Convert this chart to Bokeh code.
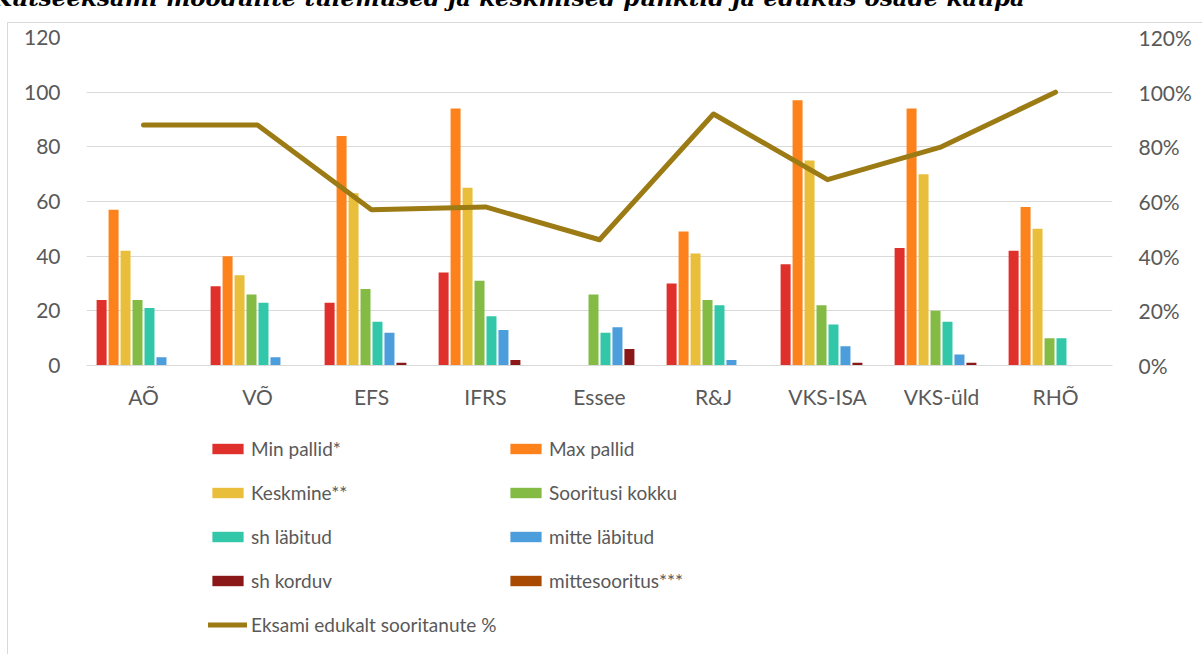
from bokeh.plotting import figure
from bokeh.models import (ColumnDataSource, FactorRange, Range1d, LinearAxis, Legend, LegendItem,
                          FixedTicker, PrintfTickFormatter, Div)
from bokeh.layouts import column
from bokeh.transform import dodge
from bokeh.embed import file_html
from bokeh.resources import INLINE

# ---------------- data ----------------
categories = ["AÕ", "VÕ", "EFS", "IFRS", "Essee", "R&J", "VKS-ISA", "VKS-üld", "RHÕ"]
min_pallid = [24, 29, 23, 34, 0, 30, 37, 43, 42]
max_pallid = [57, 40, 84, 94, 0, 49, 97, 94, 58]
keskmine = [42, 33, 63, 65, 0, 41, 75, 70, 50]
sooritusi_kokku = [24, 26, 28, 31, 26, 24, 22, 20, 10]
sh_labitud = [21, 23, 16, 18, 12, 22, 15, 16, 10]
mitte_labitud = [3, 3, 12, 13, 14, 2, 7, 4, 0]
sh_korduv = [0, 0, 1, 2, 6, 0, 1, 1, 0]
mittesooritus = [0, 0, 0, 0, 0, 0, 0, 0, 0]
edukalt_pct = [88, 88, 57, 58, 46, 92, 68, 80, 100]

series_labels = ["Min pallid*", "Max pallid", "Keskmine**", "Sooritusi kokku",
                 "sh läbitud", "mitte läbitud", "sh korduv", "mittesooritus***"]
line_label = "Eksami edukalt sooritanute %"
left_ticks = [0, 20, 40, 60, 80, 100, 120]
right_ticks = [0, 20, 40, 60, 80, 100, 120]
title_text = "Kutseeksami moodulite tulemused ja keskmised punktid ja edukus osade kaupa"

# ---------------- styles ----------------
colors = ["#E0302B", "#FD821B", "#E9BE3A", "#84BB44", "#33C7A9", "#4B9DDC", "#8B1818", "#A84A02"]
line_color = "#9C7B14"
txt = "#595959"
grid = "#D9D9D9"
font = "Lato"

src = ColumnDataSource(dict(
    cat=categories,
    s0=min_pallid, s1=max_pallid, s2=keskmine, s3=sooritusi_kokku,
    s4=sh_labitud, s5=mitte_labitud, s6=sh_korduv, s7=mittesooritus,
    pct=edukalt_pct,
))

W = 1195
p = figure(width=W, height=397, x_range=FactorRange(*categories, range_padding=0),
           y_range=Range1d(0, 120), output_backend="svg", toolbar_location=None,
           min_border_left=78, min_border_right=91, min_border_top=14, min_border_bottom=55)
p.styles = {"border-top": "1px solid #D9D9D9", "border-left": "1px solid #D9D9D9"}
p.margin = (0, 0, 0, 7)
p.outline_line_color = None
p.extra_y_ranges = {"pct": Range1d(0, 120)}

step = 0.105
bw = 0.0877
bars = []
for i in range(8):
    r = p.vbar(x=dodge("cat", (i - 3.5) * step, range=p.x_range), top=f"s{i}", width=bw,
               source=src, fill_color=colors[i], line_color=None)
    bars.append(r)

ln = p.line(x="cat", y="pct", source=src, y_range_name="pct", line_width=5,
            line_color=line_color, line_cap="round", line_join="round")

# axes
p.yaxis.ticker = FixedTicker(ticks=left_ticks)
ax_r = LinearAxis(y_range_name="pct", ticker=FixedTicker(ticks=right_ticks),
                  formatter=PrintfTickFormatter(format="%d%%"))
p.add_layout(ax_r, "right")

for ax in [p.yaxis[0], ax_r]:
    ax.axis_line_color = None
    ax.major_tick_line_color = None
    ax.minor_tick_line_color = None
    ax.major_label_text_font = font
    ax.major_label_text_font_size = "21px"
    ax.major_label_text_color = txt
    ax.major_label_standoff = 20

p.xaxis.axis_line_color = grid
p.xaxis.major_tick_line_color = None
p.xaxis.minor_tick_line_color = None
p.xaxis.major_label_text_font = font
p.xaxis.major_label_text_font_size = "21px"
p.xaxis.major_label_text_color = txt
p.xaxis.major_label_standoff = 12

p.xgrid.grid_line_color = None
p.ygrid.grid_line_color = grid
p.ygrid.grid_line_width = 1

# ---------------- legend (separate canvas below the chart) ----------------
lg = figure(width=W, height=235, x_range=Range1d(0, 1), y_range=Range1d(0, 1),
            output_backend="svg", toolbar_location=None,
            x_axis_location=None, y_axis_location=None,
            min_border=0, min_border_left=0, min_border_right=0, min_border_top=0, min_border_bottom=0)
lg.styles = {"border-left": "1px solid #D9D9D9"}
lg.margin = (0, 0, 0, 7)
lg.outline_line_color = None
lg.grid.visible = False

# legend proxies (NaN data: nothing drawn in the data area)
nan = float("nan")
proxies = []
for i in range(8):
    proxies.append(lg.vbar(x=[nan], top=[nan], width=0.1, fill_color=colors[i], line_color=None))
proxy_line = lg.line(x=[nan, nan], y=[nan, nan], line_width=5, line_color=line_color, line_cap="round")


def mk_legend(items, loc):
    return Legend(items=items, location=loc, orientation="vertical",
                  glyph_width=39, glyph_height=13, label_height=24, spacing=20,
                  label_standoff=4, padding=0, margin=0,
                  border_line_color=None, background_fill_alpha=0,
                  label_text_font=font, label_text_font_size="19px", label_text_color=txt)


col1 = [LegendItem(label=series_labels[i], renderers=[proxies[i]]) for i in (0, 2, 4, 6)]
col1.append(LegendItem(label=line_label, renderers=[proxy_line]))
col2 = [LegendItem(label=series_labels[i], renderers=[proxies[i]]) for i in (1, 3, 5, 7)]
lg.add_layout(mk_legend(col1, (122, 18)))
lg.add_layout(mk_legend(col2, (420, 62)))

title = Div(text=f'<div style="position:relative; top:-16px; left:-8px; white-space:nowrap; '
                 f'line-height:23px; font: italic bold 23px \'DejaVu Serif\'; color:#000;">{title_text}</div>',
            width=1203, height=22, margin=0, styles={"overflow": "visible"})

layout = column(title, p, lg, spacing=0)
open("out.html", "w").write(file_html(layout, INLINE))
